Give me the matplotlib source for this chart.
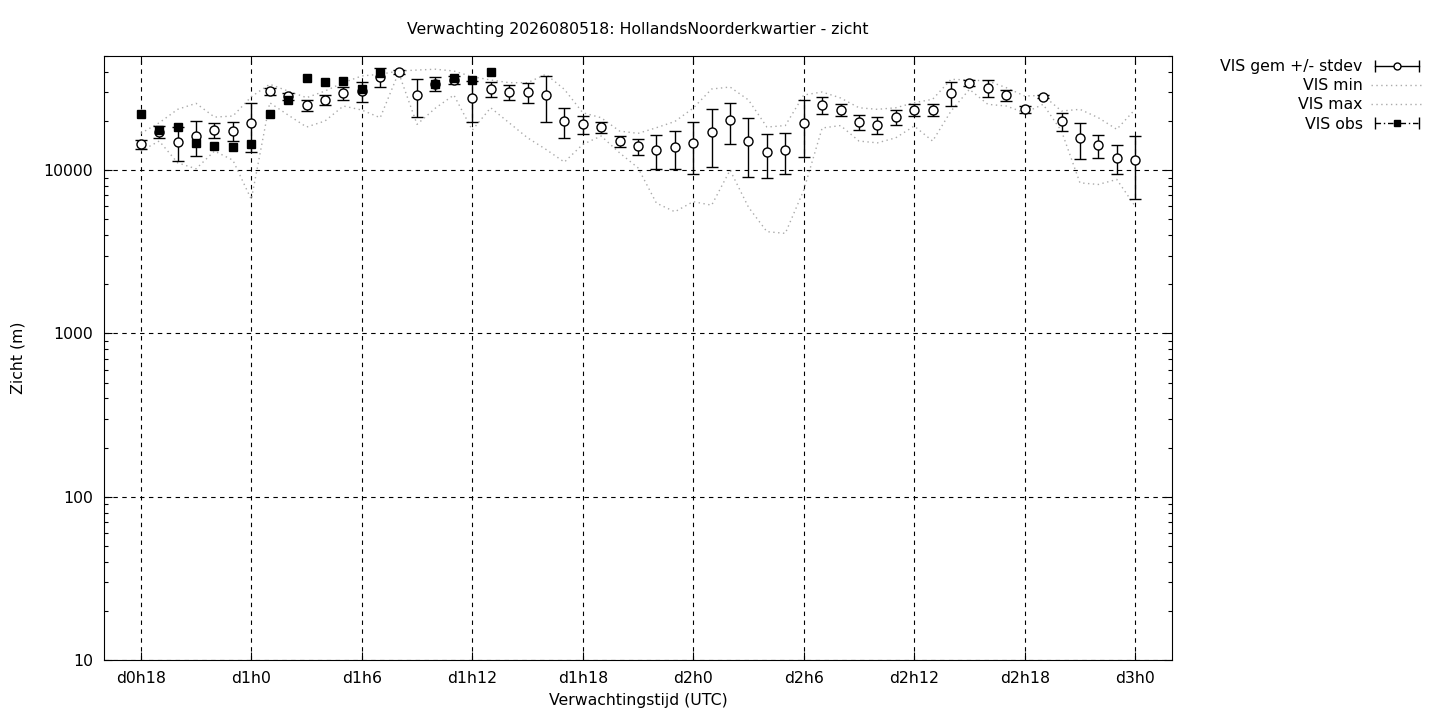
import matplotlib
matplotlib.use('Agg')
import matplotlib.pyplot as plt
from matplotlib.lines import Line2D
from matplotlib.legend_handler import HandlerLine2D, HandlerTuple

# forecast hours (hours after d0h0)
hours = list(range(18, 73))

vis_mean = [14450, 17220, 14790, 16100, 17600, 17350, 19350, 30400, 28300, 24950,
            26900, 29550, 30500, 37350, 39900, 28700, 33700, 35650, 27550, 31250,
            29970, 30000, 28700, 19900, 19070, 18280, 15000, 13970, 13210, 13780,
            14580, 17030, 20180, 15000, 12840, 13210, 19350, 25050, 23340, 19690,
            18890, 21050, 23340, 23340, 29550, 34180, 31700, 28700, 23570, 28170,
            19900, 15640, 14180, 11800, 11470]

vis_std = [900, 1470, 3490, 3900, 1760, 2290, 6400, 1575, 1550, 1975,
           2000, 2770, 4380, 4900, 1100, 7400, 3300, 2100, 7800, 3200,
           3270, 4200, 9100, 4200, 2520, 1350, 1220, 1540, 3090, 3590,
           5075, 6600, 5750, 5960, 3910, 3700, 7390, 2975, 1975, 2040,
           2245, 2215, 1975, 1975, 4960, 1300, 3780, 2220, 1210, 600,
           2500, 3915, 2240, 2385, 4815]

vis_min = [13090, 15070, 11090, 10190, 13090, 11510, 6610, 25880, 21750, 18360,
           19990, 24700, 23340, 20940, 39540, 19070, 23990, 28840, 17590, 24100,
           19500, 15780, 13400, 11200, 14380, 16180, 12760, 10330, 6280, 5560,
           6410, 6100, 10000, 5930, 4200, 4100, 7540, 18110, 18750, 15070,
           14690, 15780, 18620, 15070, 23010, 31250, 25290, 24700, 22470, 25290,
           17350, 8360, 8170, 8770, 6010]

vis_max = [16790, 19500, 23570, 25650, 21130, 21440, 28170, 33570, 30500, 27780,
           30500, 34330, 37750, 38640, 40460, 41020, 41500, 40460, 37350, 35650,
           34330, 34330, 38640, 31250, 22470, 20940, 17350, 16790, 18190, 19850,
           23990, 31390, 32280, 26900, 18360, 18750, 28840, 30100, 27670, 24100,
           23570, 24100, 25880, 27160, 35980, 35650, 35160, 31990, 28440, 28700,
           23010, 23570, 20940, 17780, 23570]

obs_hours = [18, 19, 20, 21, 22, 23, 24, 25, 26, 27, 28, 29, 30, 31, 34, 35, 36, 37]
obs_vis = [22100, 17700, 18300, 14580, 13970, 13900, 14380, 22100, 26900, 36500,
           34700, 35200, 31200, 39500, 33600, 36500, 35500, 39900]

xticks = list(range(18, 73, 6))
xlabels = ['d%dh%d' % (h // 24, h % 24) for h in xticks]
yticks = [10, 100, 1000, 10000]
ylabels = ['10', '100', '1000', '10000']

fs = 11.3
fig = plt.figure(figsize=(14.4, 7.2), dpi=100)
ax = fig.add_axes([104 / 1440, 60 / 720, 1068 / 1440, 604 / 720])

ax.errorbar(hours, vis_mean, yerr=vis_std, fmt='o', ms=6.5, mfc='white', mec='black',
            mew=1, ecolor='black', elinewidth=1, capsize=4, capthick=1, zorder=3)
ax.plot(hours, vis_min, color='#aaaaaa', ls=(0, (1, 2.5)), lw=1, zorder=2)
ax.plot(hours, vis_max, color='#aaaaaa', ls=(0, (1, 2.5)), lw=1, zorder=2)
ax.plot(obs_hours, obs_vis, 's', color='black', ms=5.5, zorder=4)

ax.set_yscale('log')
ax.set_ylim(10, 50000)
ax.set_xlim(16, 74)
ax.set_xticks(xticks)
ax.set_xticklabels(xlabels, fontsize=fs)
ax.set_yticks(yticks)
ax.set_yticklabels(ylabels, fontsize=fs)
ax.tick_params(which='both', direction='in', top=True, right=True, width=0.8)
ax.tick_params(which='major', length=6, pad=8)
ax.tick_params(which='minor', length=3)
ax.tick_params(axis='x', which='minor', bottom=False, top=False)
ax.grid(True, which='major', color='black', ls=(0, (4, 4)), lw=0.8)
for s in ax.spines.values():
    s.set_linewidth(0.8)

ax.set_title('Verwachting 2026080518: HollandsNoorderkwartier - zicht', fontsize=fs, pad=16)
ax.set_xlabel('Verwachtingstijd (UTC)', fontsize=fs, labelpad=5)
ax.set_ylabel('Zicht (m)', fontsize=fs, labelpad=13)

# legend handles in gnuplot style
gem_line = Line2D([], [], color='black', lw=1, marker='|', ms=8)
gem_dot = Line2D([], [], ls='none', marker='o', ms=5, mfc='white', mec='black')
min_line = Line2D([], [], color='#aaaaaa', ls=(0, (1, 2.5)), lw=1)
max_line = Line2D([], [], color='#aaaaaa', ls=(0, (1, 2.5)), lw=1)
obs_line = Line2D([], [], color='black', lw=1, ls=(0, (4, 2, 1, 2)), marker='|', ms=8)
obs_dot = Line2D([], [], ls='none', marker='s', ms=5, color='black')
hmap = {gem_line: HandlerLine2D(numpoints=2), obs_line: HandlerLine2D(numpoints=2),
        gem_dot: HandlerLine2D(numpoints=1), obs_dot: HandlerLine2D(numpoints=1),
        tuple: HandlerTuple(ndivide=1)}
fig.legend([(gem_line, gem_dot), min_line, max_line, (obs_line, obs_dot)],
           ['VIS gem +/- stdev', 'VIS min', 'VIS max', 'VIS obs'],
           handler_map=hmap, loc='upper right', bbox_to_anchor=(1424 / 1440, 1 - 59 / 720),
           frameon=False, markerfirst=False, fontsize=fs, handlelength=3.4,
           handletextpad=0.5, labelspacing=0.27, borderpad=0, borderaxespad=0)

fig.savefig('out.png', dpi=100)
